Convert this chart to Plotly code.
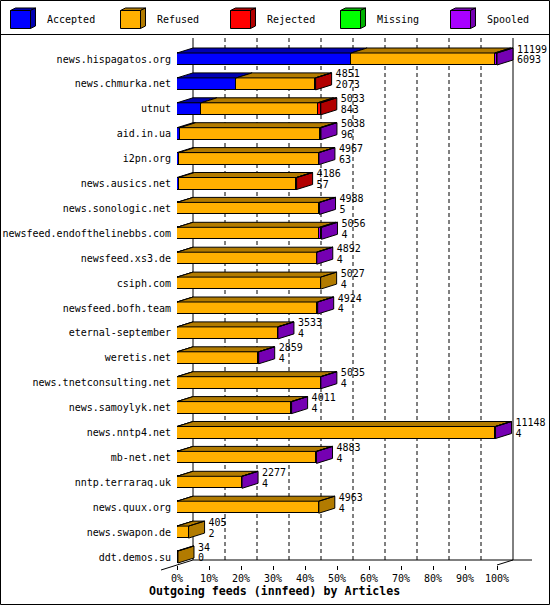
import plotly.graph_objects as go

# innfeed outgoing feeds
hosts = ["news.hispagatos.org", "news.chmurka.net", "utnut", "aid.in.ua", "i2pn.org",
         "news.ausics.net", "news.sonologic.net", "newsfeed.endofthelinebbs.com",
         "newsfeed.xs3.de", "csiph.com", "newsfeed.bofh.team", "eternal-september",
         "weretis.net", "news.tnetconsulting.net", "news.samoylyk.net", "news.nntp4.net",
         "mb-net.net", "nntp.terraraq.uk", "news.quux.org", "news.swapon.de", "ddt.demos.su"]
totals = [11199, 4851, 5033, 5038, 4967, 4186, 4988, 5056, 4892, 5027, 4924,
          3533, 2859, 5035, 4011, 11148, 4883, 2277, 4963, 405, 34]
accepted = [6093, 2073, 843, 96, 63, 57, 5, 4, 4, 4, 4, 4, 4, 4, 4, 4, 4, 4, 4, 2, 0]
refused = [5026, 2770, 4080, 4902, 4894, 4124, 4973, 4982, 4878, 5023, 4910,
           3519, 2845, 5021, 3997, 11134, 4869, 2263, 4959, 403, 34]
rejected = [0, 8, 110, 0, 0, 5, 0, 0, 0, 0, 0, 0, 0, 0, 0, 0, 0, 0, 0, 0, 0]
missing = [0] * 21
spooled = [80, 0, 0, 40, 10, 0, 10, 70, 10, 0, 10, 10, 10, 10, 10, 10, 10, 10, 0, 0, 0]

series = ["Accepted", "Refused", "Rejected", "Missing", "Spooled"]
front_cols = ["#0000FF", "#FFB000", "#FF0000", "#00FF00", "#A800FF"]
dark_cols = ["#0000B2", "#B27B00", "#B20000", "#00B200", "#7500B2"]
values = [accepted, refused, rejected, missing, spooled]

pct_ticks = [0, 10, 20, 30, 40, 50, 60, 70, 80, 90, 100]

W, H = 550, 605
FONT = "DejaVu Sans Mono"

# pixel geometry of the drawing
x0_px, x100_px = 177, 497
row0_px, row_step = 59, 24.9
top_px, floor_px, back_floor_px = 36, 565, 560
depth_x, depth_y = 16, 5
bar_px = 12

scale_max = max(totals)
upp = scale_max / (x100_px - x0_px)          # articles per pixel
dx = depth_x * upp
dyu = depth_y / row_step
bw = bar_px / row_step
rows = list(range(len(hosts)))

fig = go.Figure()

# front faces
for name, vals, col in zip(series, values, front_cols):
    fig.add_trace(go.Bar(y=rows, x=vals, orientation="h", width=bw, name=name,
                         marker=dict(color=col, line=dict(color="black", width=1)),
                         showlegend=False, hoverinfo="skip"))

# top faces and end faces
poly = {c: ([], []) for c in dark_cols}
for i in rows:
    start = 0
    last = None
    yt, yb = i - bw / 2, i + bw / 2
    for k, vals in enumerate(values):
        v = vals[i]
        if v > 0:
            end = start + v
            px_, py_ = poly[dark_cols[k]]
            px_ += [start, end, end + dx, start + dx, start, None]
            py_ += [yt, yt, yt - dyu, yt - dyu, yt, None]
            last = k
            start = end
    if last is not None:
        px_, py_ = poly[dark_cols[last]]
        px_ += [start, start, start + dx, start + dx, start, None]
        py_ += [yt, yb, yb - dyu, yt - dyu, yt, None]

for col, (xs, ys) in poly.items():
    if xs:
        fig.add_trace(go.Scatter(x=xs, y=ys, mode="lines", fill="toself", fillcolor=col,
                                 line=dict(color="black", width=1), showlegend=False,
                                 hoverinfo="skip"))

# value labels: total on top, accepted below
lab_x = [t + dx + 4 * upp for t in totals]
fig.add_trace(go.Scatter(x=lab_x, y=[i - 0.36 for i in rows],
                         text=[str(t) for t in totals], mode="text", textposition="middle right",
                         textfont=dict(family=FONT, size=10, color="black"),
                         cliponaxis=False, showlegend=False, hoverinfo="skip"))
fig.add_trace(go.Scatter(x=lab_x, y=[i + 0.08 for i in rows],
                         text=[str(a) for a in accepted], mode="text", textposition="middle right",
                         textfont=dict(family=FONT, size=10, color="black"),
                         cliponaxis=False, showlegend=False, hoverinfo="skip"))

def px(x):
    return x / W

def py(y):
    return 1 - y / H

shapes = []
# back wall grid lines
for p in pct_ticks:
    xv = scale_max * p / 100 + dx
    dash = "solid" if p in (0, 100) else "4px,3px"
    shapes.append(dict(type="line", xref="x", yref="paper", x0=xv, x1=xv,
                       y0=py(back_floor_px), y1=py(38), layer="below",
                       line=dict(color="black", width=1, dash=dash)))
# floor lines
shapes.append(dict(type="line", xref="paper", yref="paper", x0=px(x0_px + depth_x), x1=px(532),
                   y0=py(back_floor_px), y1=py(back_floor_px), line=dict(color="black", width=1)))
shapes.append(dict(type="line", xref="paper", yref="paper", x0=px(x0_px - depth_x), x1=px(x0_px + depth_x),
                   y0=py(floor_px + depth_y), y1=py(back_floor_px), line=dict(color="black", width=1)))
shapes.append(dict(type="line", xref="paper", yref="paper", x0=px(x100_px), x1=px(x100_px + depth_x),
                   y0=py(floor_px), y1=py(back_floor_px), line=dict(color="black", width=1)))
# border and legend separator
shapes.append(dict(type="rect", xref="paper", yref="paper", x0=px(0.5), x1=px(549.5),
                   y0=py(604.5), y1=py(0.5), line=dict(color="black", width=1)))
shapes.append(dict(type="line", xref="paper", yref="paper", x0=0, x1=1,
                   y0=py(34.5), y1=py(34.5), line=dict(color="black", width=1)))

# legend cubes
annotations = []
for k, name in enumerate(series):
    lx = 10.5 + 110 * k
    ly0, ly1 = 10.5, 28.5
    d_x, d_y = 5, 2.5
    shapes.append(dict(type="path", xref="paper", yref="paper",
                       path="M %f %f L %f %f L %f %f L %f %f Z" % (
                           px(lx), py(ly0), px(lx + 20), py(ly0),
                           px(lx + 20 + d_x), py(ly0 - d_y), px(lx + d_x), py(ly0 - d_y)),
                       fillcolor=dark_cols[k], line=dict(color="black", width=1)))
    shapes.append(dict(type="path", xref="paper", yref="paper",
                       path="M %f %f L %f %f L %f %f L %f %f Z" % (
                           px(lx + 20), py(ly0), px(lx + 20), py(ly1),
                           px(lx + 20 + d_x), py(ly1 - d_y), px(lx + 20 + d_x), py(ly0 - d_y)),
                       fillcolor=dark_cols[k], line=dict(color="black", width=1)))
    shapes.append(dict(type="rect", xref="paper", yref="paper",
                       x0=px(lx), x1=px(lx + 20), y0=py(ly1), y1=py(ly0),
                       fillcolor=front_cols[k], line=dict(color="black", width=1)))
    annotations.append(dict(text=name, xref="paper", yref="paper", x=px(lx + 34), y=py(19.5),
                            xanchor="left", yanchor="middle", showarrow=False,
                            font=dict(family=FONT, size=10, color="black")))

annotations.append(dict(text="<b>Outgoing feeds (innfeed) by Articles</b>", xref="paper", yref="paper",
                        x=px(274), y=py(591), xanchor="center", yanchor="middle", showarrow=False,
                        font=dict(family=FONT, size=11.6, color="black")))

layout = go.Layout(
    width=W, height=H, autosize=False,
    margin=dict(l=0, r=0, t=0, b=0, pad=0),
    plot_bgcolor="white", paper_bgcolor="white",
    barmode="stack", bargap=0,
    xaxis=dict(domain=[px(x0_px), 1], range=[0, scale_max * (W - x0_px) / (x100_px - x0_px)],
               tickvals=[scale_max * p / 100 for p in pct_ticks],
               ticktext=["%d%%" % p for p in pct_ticks],
               ticks="outside", ticklen=4, tickcolor="black", automargin=False,
               tickfont=dict(family=FONT, size=10, color="black"),
               showgrid=False, zeroline=False, showline=False, fixedrange=True),
    yaxis=dict(domain=[py(floor_px), py(top_px)],
               range=[(floor_px - row0_px) / row_step, (top_px - row0_px) / row_step],
               tickvals=rows, ticktext=hosts, ticks="", ticklabelstandoff=5, automargin=False,
               tickfont=dict(family=FONT, size=10, color="black"),
               showgrid=False, zeroline=False, showline=False, fixedrange=True),
    shapes=shapes, annotations=annotations,
)

fig = go.Figure(data=fig.data, layout=layout)
# the page's default body margin would push the fixed-size figure off the window
fig.write_html("out.html", config={"displayModeBar": False},
               post_script="document.body.style.margin='0';")
